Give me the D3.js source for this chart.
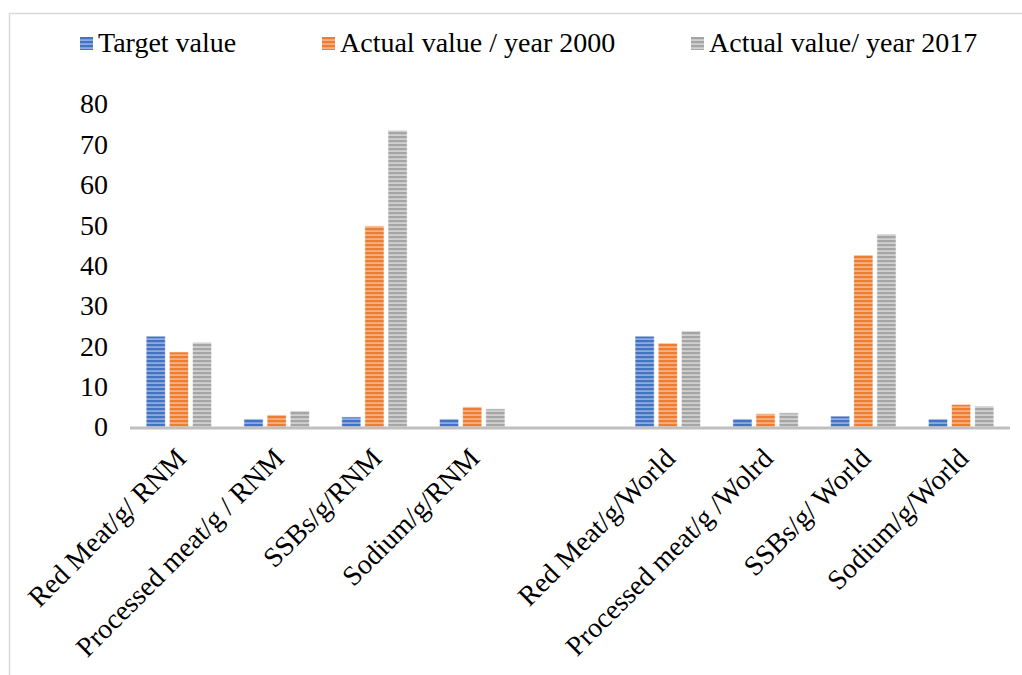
<!DOCTYPE html>
<html>
<head>
<meta charset="utf-8">
<script src="https://cdn.jsdelivr.net/npm/d3@7"></script>
<style>
  html, body { margin: 0; padding: 0; background: #fff; }
  svg text { font-family: "Liberation Serif", "Times New Roman", serif; fill: #000; }
</style>
</head>
<body>
<svg id="chart" width="1022" height="675"></svg>
<script>
// Category labels (an empty slot separates the RNM and World groups)
const categories = [
  "Red Meat/g/ RNM", "Processed meat/g / RNM", "SSBs/g/RNM", "Sodium/g/RNM",
  "",
  "Red Meat/g/World", "Processed meat/g /Wolrd", "SSBs/g/ World", "Sodium/g/World"
];
const seriesNames = ["Target value", "Actual value / year 2000", "Actual value/ year 2017"];
const targetValues = [22.5, 2, 2.5, 2, null, 22.5, 2, 2.7, 2];
const actual2000   = [18.6, 3, 49.8, 5, null, 20.8, 3.3, 42.6, 5.6];
const actual2017   = [21, 4, 73.5, 4.5, null, 23.8, 3.5, 47.8, 5.2];
const yTicks = [0, 10, 20, 30, 40, 50, 60, 70, 80];

const seriesValues = [targetValues, actual2000, actual2017];
const colors = ["#4472C4", "#ED7D31", "#A5A5A5"];
const lightColors = ["#8FAADC", "#F4B183", "#D0D0D0"];
const FONT = '"Liberation Serif", "Times New Roman", serif';

const svg = d3.select("#chart");

// Outer frame
svg.append("path")
  .attr("d", "M9.5,675 L9.5,13.5 L1022,13.5")
  .attr("fill", "none").attr("stroke", "#d9d9d9").attr("stroke-width", 1.5);

// Horizontal stripe fills
const defs = svg.append("defs");
colors.forEach((c, i) => {
  const p = defs.append("pattern")
    .attr("id", "stripe" + i)
    .attr("patternUnits", "userSpaceOnUse")
    .attr("width", 8).attr("height", 4);
  p.append("rect").attr("width", 8).attr("height", 4).attr("fill", lightColors[i]);
  p.append("rect").attr("y", 0).attr("width", 8).attr("height", 2.2).attr("fill", c);
});

const plot = { left: 130, right: 1010, top: 104, bottom: 427 };

const x = d3.scaleBand()
  .domain(d3.range(categories.length))
  .range([plot.left, plot.right])
  .paddingInner(0.33).paddingOuter(0.165);

const inner = d3.scaleBand()
  .domain(d3.range(seriesNames.length))
  .range([0, x.bandwidth()])
  .paddingInner(0.17);

const y = d3.scaleLinear().domain([0, 80]).range([plot.bottom, plot.top]);

// Bars
seriesValues.forEach((vals, si) => {
  svg.append("g").selectAll("rect")
    .data(vals.map((v, i) => ({ v, i })).filter(d => d.v !== null))
    .join("rect")
    .attr("x", d => x(d.i) + inner(si))
    .attr("width", inner.bandwidth())
    .attr("y", d => y(d.v))
    .attr("height", d => y(0) - y(d.v))
    .attr("fill", `url(#stripe${si})`)
    .attr("stroke", "#ffffff").attr("stroke-opacity", 0.6).attr("stroke-width", 1);
});

// Y axis labels (no axis line or gridlines)
const yAxis = d3.axisLeft(y).tickValues(yTicks).tickSize(0).tickPadding(0);
const yg = svg.append("g").attr("transform", `translate(108,0)`).call(yAxis);
yg.select(".domain").remove();
yg.selectAll("text")
  .style("font-family", FONT)
  .style("font-size", "28px").attr("fill", "#000");

// X axis baseline
svg.append("line")
  .attr("x1", plot.left).attr("x2", plot.right)
  .attr("y1", y(0) + 1).attr("y2", y(0) + 1)
  .attr("stroke", "#bfbfbf").attr("stroke-width", 3);

// Category labels, rotated
const xAxis = d3.axisBottom(x).tickFormat(i => categories[i]).tickSize(0);
const xg = svg.append("g").attr("transform", `translate(0,${plot.bottom})`).call(xAxis);
xg.select(".domain").remove();
xg.selectAll("text")
  .style("font-family", FONT)
  .style("font-size", "28px").attr("fill", "#000")
  .attr("text-anchor", "end")
  .attr("transform", "translate(9,33) rotate(-45)")
  .attr("dy", "0").attr("y", 0);

// Legend
const legendX = [80, 322, 691];
const legend = svg.append("g");
seriesNames.forEach((name, i) => {
  const g = legend.append("g").attr("transform", `translate(${legendX[i]},37)`);
  g.append("rect").attr("width", 13).attr("height", 13).attr("fill", `url(#stripe${i})`);
  g.append("text").attr("x", 18).attr("y", 15)
    .style("font-family", FONT)
    .style("font-size", "28px").text(name);
});
</script>
</body>
</html>
